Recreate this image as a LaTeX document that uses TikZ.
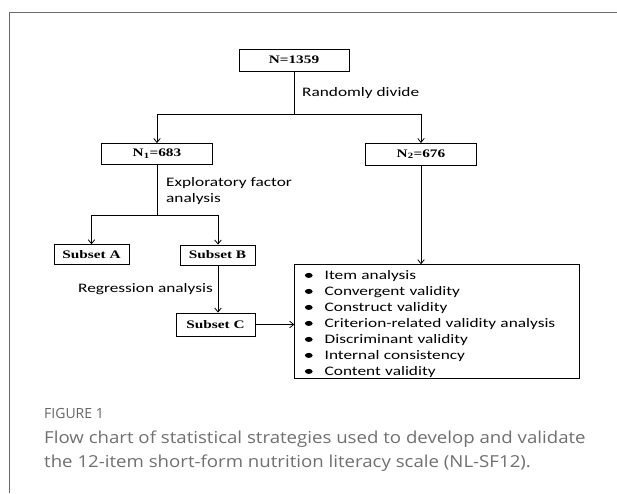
\documentclass[tikz,border=0pt]{standalone}
\usepackage{fontspec}
\usetikzlibrary{arrows.meta}
\newfontfamily\boxfont[FakeStretch=1.33]{Liberation Serif}
\newfontfamily\lblfont[FakeStretch=1.33]{Carlito}
\newfontfamily\capfont[FakeStretch=1.13]{Open Sans}
\newfontfamily\capfigfont{Open Sans}
\definecolor{capgray}{HTML}{707070}
\definecolor{figgray}{HTML}{666666}
\definecolor{framegray}{HTML}{6A6A6A}
\newcommand\listbul{\tikz[baseline=-4.2pt]\fill[black] (0,0) ellipse [x radius=3.85pt, y radius=2.5pt];\hspace{12.1pt}}
\begin{document}
\begin{tikzpicture}[x=1pt,y=-1pt,
  box/.style={draw=black, line width=0.8pt, inner sep=0pt, font=\boxfont\fontsize{11.5}{13}\selectfont\bfseries},
  lbl/.style={font=\lblfont\fontsize{13}{16}\selectfont, inner sep=0pt, anchor=west, align=left},
  conn/.style={line width=0.8pt},
  arr/.style={conn, -{Straight Barb[length=4pt,width=6.5pt]}},
  captext/.style={font=\capfont\fontsize{16.5}{24}\selectfont, text=capgray, inner sep=0pt, align=left},
  capfig/.style={font=\capfigfont\fontsize{14}{16}\selectfont, text=figgray, inner sep=0pt}
]
\useasboundingbox (0,0) rectangle (617,493);
\fill[white] (0,0) rectangle (617,493);
\draw[framegray, line width=0.8pt] (9.5,493) -- (9.5,12.5) -- (617,12.5);

\node[box, minimum width=110pt, minimum height=22pt] (n0) at (294,60) {N=1359};
\node[box, minimum width=111pt, minimum height=21pt] (n1) at (157,154) {N\textsubscript{1}=683};
\node[box, minimum width=111pt, minimum height=21.5pt] (n2) at (421,154.2) {N\textsubscript{2}=676};
\node[box, minimum width=75pt, minimum height=19.5pt] (sa) at (91.5,254.5) {Subset A};
\node[box, minimum width=75pt, minimum height=20pt] (sb) at (217.5,255) {Subset B};
\node[box, minimum width=79pt, minimum height=23pt] (sc) at (215.5,324.5) {Subset C};
\node[draw=black, line width=0.8pt, anchor=north west, inner xsep=10.2pt, inner ysep=0pt,
      text width=264.6pt, align=left, text height=14.9pt, text depth=99.1pt,
      font=\lblfont\fontsize{13}{16}\selectfont] (list) at (294.3,264.3)
  {\listbul Item analysis\\
   \listbul Convergent validity\\
   \listbul Construct validity\\
   \listbul Criterion-related validity analysis\\
   \listbul Discriminant validity\\
   \listbul Internal consistency\\
   \listbul Content validity};

\coordinate (j0) at (294,114);
\coordinate (j1) at (157,215);
\draw[conn] (n0.south) -- (j0);
\draw[arr] (j0) -| (n1.north);
\draw[arr] (j0) -| (n2.north);
\draw[conn] (n1.south) -- (j1);
\draw[arr] (j1) -| (sa.north);
\draw[arr] (j1) -| ([xshift=0.5pt]sb.north);
\draw[arr] ([xshift=0.5pt]sb.south) -- ([xshift=0.5pt]sb.south |- sc.north);
\draw[arr] (sc.east) -- (sc.east -| list.west);
\draw[arr] (n2.south) -- (n2.south |- list.north);

\node[lbl] (rd) at (302,93) {Randomly divide};
\node[lbl] (efa) at (166,191) {Exploratory factor\\analysis};
\node[lbl] (reg) at (78,289) {Regression analysis};

\node[capfig, anchor=west] (fig) at (44,413.3) {FIGURE 1};
\node[captext, anchor=base west] (captn) at (44,467.2) {Flow chart of statistical strategies used to develop and validate\\the 12-item short-form nutrition literacy scale (NL-SF12).};
\end{tikzpicture}
\end{document}
